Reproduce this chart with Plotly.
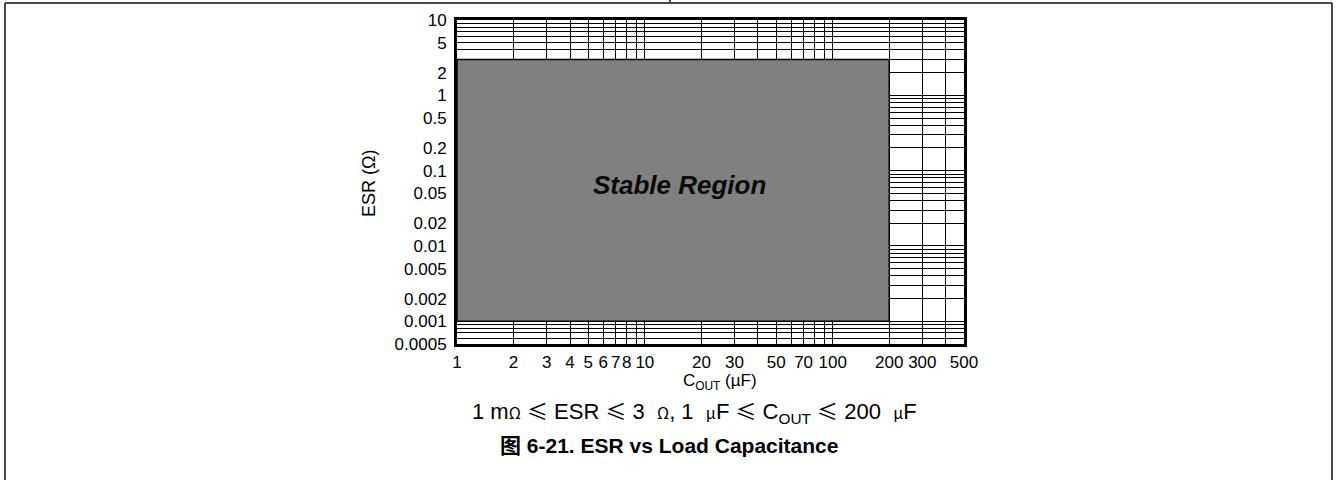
import math
import plotly.graph_objects as go

# Stable operating window for the output capacitor
cout_limits = [1, 200]        # µF
esr_limits = [0.001, 3]       # Ω

# Axis tick labels
x_tick_vals = [1, 2, 3, 4, 5, 6, 7, 8, 10, 20, 30, 50, 70, 100, 200, 300, 500]
x_tick_text = ["1", "2", "3", "4", "5", "6", "7", "8", "10", "20", "30", "50", "70", "100", "200", "300", "500"]
y_tick_vals = [10, 5, 2, 1, 0.5, 0.2, 0.1, 0.05, 0.02, 0.01, 0.005, 0.002, 0.001, 0.0005]
y_tick_text = ["10", "5", "2", "1", "0.5", "0.2", "0.1", "0.05", "0.02", "0.01", "0.005", "0.002", "0.001", "0.0005"]

x_range = [1, 500]
y_range = [0.0005, 10]

# Label position of the region caption (data units)
label_pos = [15.2, 0.064]

# Log grid lines at every 1..9 step inside each decade
x_grid = [m * 10 ** e for e in range(0, 3) for m in range(1, 10) if x_range[0] < m * 10 ** e < x_range[1]]
y_grid = [round(m * 10.0 ** e, 6) for e in range(-4, 1) for m in range(1, 10) if y_range[0] < m * 10.0 ** e < y_range[1]]

W, H = 1336, 480
L, R, T, B = 457, 964, 20, 344   # plot area in pixels


def px_x(p):
    return (p - L) / (R - L)


def px_y(p):
    return (B - p) / (B - T)


FONT = "Liberation Sans, Arial, sans-serif"
CJK = "Noto Sans CJK SC"

fig = go.Figure()

fig.add_trace(go.Scatter(
    x=[cout_limits[0], cout_limits[1], cout_limits[1], cout_limits[0], cout_limits[0]],
    y=[esr_limits[0], esr_limits[0], esr_limits[1], esr_limits[1], esr_limits[0]],
    mode="lines",
    fill="toself",
    fillcolor="#808080",
    line=dict(color="black", width=1.5),
    hoverinfo="skip",
    showlegend=False,
))

# annotations on log axes take log10 positions
fig.add_annotation(
    x=math.log10(label_pos[0]), y=math.log10(label_pos[1]), xref="x", yref="y",
    xanchor="center", yanchor="middle",
    text="<b><i>Stable Region</i></b>", showarrow=False,
    font=dict(family=FONT, size=26, color="#0a0a0a"),
)

axis_common = dict(
    type="log",
    showgrid=False,
    showline=True,
    mirror=True,
    linecolor="black",
    linewidth=3,
    ticks="",
    tickfont=dict(family=FONT, size=17, color="black"),
    zeroline=False,
)

fig.update_xaxes(
    **axis_common,
    range=[math.log10(x_range[0]), math.log10(x_range[1])],
    tickmode="array",
    tickvals=x_tick_vals,
    ticktext=x_tick_text,
    tickangle=0,
    minor=dict(tickmode="array", tickvals=x_grid, showgrid=True, gridcolor="black", gridwidth=1, ticks=""),
    ticklabelstandoff=1,
)
fig.update_yaxes(
    **axis_common,
    range=[math.log10(y_range[0]), math.log10(y_range[1])],
    tickmode="array",
    tickvals=y_tick_vals,
    ticktext=y_tick_text,
    minor=dict(tickmode="array", tickvals=y_grid, showgrid=True, gridcolor="black", gridwidth=1, ticks=""),
    ticklabelstandoff=4,
)

# Axis titles and text block below the chart
fig.add_annotation(
    x=px_x(369), y=px_y(184), xref="paper", yref="paper", textangle=-90,
    text="ESR (Ω)", showarrow=False, xanchor="center", yanchor="middle",
    font=dict(family=FONT, size=18, color="black"),
)
fig.add_annotation(
    x=px_x(720), y=px_y(382), xref="paper", yref="paper",
    text="C<sub>OUT</sub> (µF)", showarrow=False, xanchor="center", yanchor="middle",
    font=dict(family=FONT, size=17, color="black"),
)


def cjk(s, size):
    return f"<span style='font-family:{CJK};font-size:{size}px'>{s}</span>"


cond = ("1 m" + cjk("Ω", 16) + " " + cjk("≤", 21) + " ESR " + cjk("≤", 21) + " 3  " + cjk("Ω", 16)
        + ", 1  " + cjk("µ", 16) + "F " + cjk("≤", 21) + " C<sub>OUT</sub> " + cjk("≤", 21)
        + " 200  " + cjk("µ", 16) + "F")
fig.add_annotation(
    x=px_x(694), y=px_y(411), xref="paper", yref="paper",
    text=cond, showarrow=False, xanchor="center", yanchor="middle",
    font=dict(family=FONT, size=22, color="black"),
)
fig.add_annotation(
    x=px_x(669), y=px_y(444), xref="paper", yref="paper",
    text="<b>" + cjk("图", 21) + " 6-21. ESR vs Load Capacitance</b>",
    showarrow=False, xanchor="center", yanchor="middle",
    font=dict(family=FONT, size=21, color="black"),
)

# Table cell frame around the figure
frame = dict(type="line", xref="paper", yref="paper", line=dict(color="#4a4a4a", width=2), layer="above")
fig.add_shape(**frame, x0=px_x(5), x1=px_x(1332), y0=px_y(3), y1=px_y(3))
fig.add_shape(**frame, x0=px_x(5), x1=px_x(5), y0=px_y(3), y1=px_y(481))
fig.add_shape(**frame, x0=px_x(1332), x1=px_x(1332), y0=px_y(3), y1=px_y(481))
fig.add_shape(**frame, x0=px_x(670), x1=px_x(670), y0=px_y(-1), y1=px_y(3))

fig.update_layout(
    width=W, height=H,
    margin=dict(l=L, r=W - R, t=T, b=H - B, pad=0),
    paper_bgcolor="white",
    plot_bgcolor="white",
    showlegend=False,
)

fig.write_html("out.html")
